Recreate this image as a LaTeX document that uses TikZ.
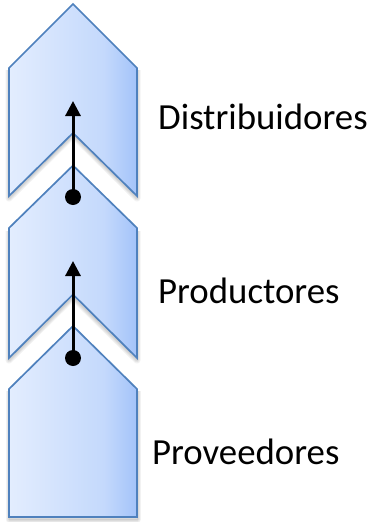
\documentclass[tikz,border=0pt]{standalone}
\usepackage{fontspec}
\setmainfont{Carlito}
\usetikzlibrary{arrows.meta}
\definecolor{chevL}{HTML}{E3EDFE}
\definecolor{chevM}{HTML}{C4D9FC}
\definecolor{chevR}{HTML}{A3C3F9}
\definecolor{chevLine}{HTML}{4F81BD}
\pgfdeclarehorizontalshading{chevshade}{100bp}{color(0bp)=(chevL); color(25bp)=(chevL); color(62bp)=(chevM); color(75bp)=(chevR); color(100bp)=(chevR)}
\tikzset{
  x=1pt,y=-1pt,
  chev/.style={draw=chevLine,line width=1.7pt,line join=miter,shading=chevshade},
  halo/.style={draw=black,draw opacity=0.05,line join=round,fill=none},
  lbl/.style={font=\fontsize{36.8}{40}\selectfont,inner sep=0pt,text=black},
  dotnode/.style={circle,fill=black,inner sep=0pt,minimum size=16pt},
  linkline/.style={line width=3pt,black,-{Triangle[length=15pt,width=15pt]}}
}
\begin{document}
\begin{tikzpicture}
\useasboundingbox (0,0) rectangle (374,522);
% soft shadows
\foreach \w in {1,3,5,7}{
  \draw[halo,line width=\w pt] (9,70) -- (9,198) -- (73,135) -- (137,198) -- (137,70);
  \draw[halo,line width=\w pt] (9,231) -- (9,360) -- (73,297) -- (137,360) -- (137,231);
  \draw[halo,line width=\w pt] (9,391) -- (9,519) -- (137,519) -- (137,391);
}
% chevrons
\path[chev] (73,326) -- (137,389) -- (137,517) -- (9,517) -- (9,389) -- cycle;
\path[chev] (73,165.5) -- (137,228) -- (137,358) -- (73,294.5) -- (9,358) -- (9,228) -- cycle;
\path[chev] (73,4) -- (137,68) -- (137,196) -- (73,133) -- (9,196) -- (9,68) -- cycle;
% links
\coordinate (topA) at (73,101);
\coordinate (topB) at (73,261);
\node[dotnode] (dotA) at (73,197) {};
\node[dotnode] (dotB) at (73,358) {};
\draw[linkline] (dotA.center) -- (topA);
\draw[linkline] (dotB.center) -- (topB);
% labels
\node[lbl,anchor=base west] (dist) at (158,129) {Distribuidores};
\node[lbl,anchor=base west] (prod) at (158,303) {Productores};
\node[lbl,anchor=base west] (prov) at (152,464) {Proveedores};
\end{tikzpicture}
\end{document}
